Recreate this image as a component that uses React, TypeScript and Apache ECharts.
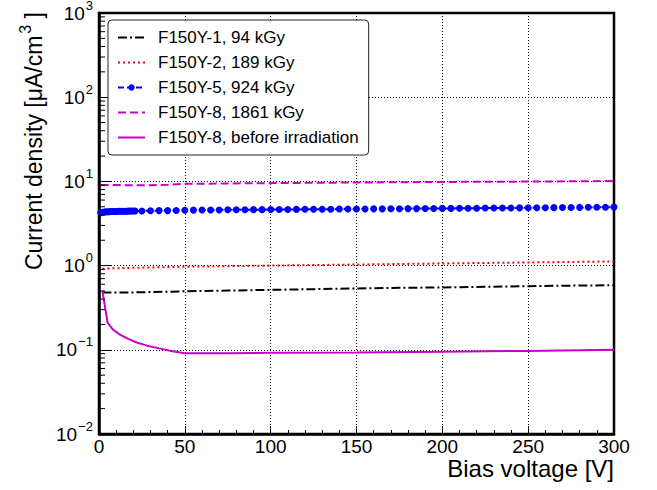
import { useEffect, useRef } from 'react';
import * as echarts from 'echarts';

const FONT = '"Liberation Sans", Arial, Helvetica, sans-serif';

// Bias voltage [V] and current density [uA/cm^3]
const voltsF1 = [2, 10, 20, 30, 40, 50, 75, 100, 125, 150, 175, 200, 225, 250, 275, 300];
const jF1 = [0.48, 0.48, 0.48, 0.485, 0.49, 0.495, 0.505, 0.515, 0.525, 0.535, 0.545, 0.55, 0.56, 0.57, 0.578, 0.585];

const voltsF2 = [2, 10, 20, 30, 50, 75, 100, 125, 150, 175, 200, 225, 250, 275, 300];
const jF2 = [0.92, 0.93, 0.94, 0.95, 0.97, 0.985, 1.0, 1.015, 1.03, 1.045, 1.06, 1.075, 1.09, 1.105, 1.12];

const voltsF5 = [
  1, 2, 3, 4, 5, 6, 7, 8, 9, 10, 11, 12, 13, 14, 15, 16, 17, 18, 19, 20, 21,
  25, 30, 35, 40, 45, 50, 55, 60, 65, 70, 75, 80, 85, 90, 95, 100,
  105, 110, 115, 120, 125, 130, 135, 140, 145, 150, 155, 160, 165, 170, 175, 180,
  185, 190, 195, 200, 205, 210, 215, 220, 225, 230, 235, 240, 245, 250, 255, 260,
  265, 270, 275, 280, 285, 290, 295, 300,
];
const jF5 = [
  4.25, 4.3, 4.33, 4.35, 4.36, 4.37, 4.38, 4.39, 4.4, 4.4, 4.41, 4.41, 4.42, 4.42, 4.43, 4.43, 4.44, 4.44, 4.45, 4.45, 4.45,
  4.46, 4.48, 4.5, 4.5, 4.52, 4.55, 4.56, 4.57, 4.58, 4.58, 4.6, 4.6, 4.61, 4.62, 4.62, 4.63,
  4.64, 4.64, 4.65, 4.66, 4.67, 4.67, 4.68, 4.69, 4.69, 4.7, 4.71, 4.72, 4.72, 4.73, 4.74, 4.75,
  4.75, 4.76, 4.77, 4.78, 4.78, 4.79, 4.8, 4.81, 4.82, 4.82, 4.83, 4.84, 4.85, 4.86, 4.86, 4.87,
  4.88, 4.89, 4.9, 4.91, 4.92, 4.93, 4.94, 4.95,
];

const voltsF8 = [1, 10, 20, 30, 40, 50, 75, 100, 150, 200, 250, 300];
const jF8 = [9.05, 9.05, 9.0, 9.0, 9.15, 9.35, 9.45, 9.55, 9.7, 9.85, 9.95, 10.1];

const voltsF8pre = [2, 5, 8, 12, 17, 22, 28, 35, 42, 50, 75, 100, 150, 200, 250, 300];
const jF8pre = [0.5, 0.21, 0.175, 0.152, 0.135, 0.122, 0.112, 0.104, 0.097, 0.091, 0.091, 0.092, 0.093, 0.095, 0.097, 0.1];

const seriesNames = [
  'F150Y-1, 94 kGy',
  'F150Y-2, 189 kGy',
  'F150Y-5, 924 kGy',
  'F150Y-8, 1861 kGy',
  'F150Y-8, before irradiation',
];

const decades = [0.01, 0.1, 1, 10, 100];
const minorMultipliers = [2, 3, 4, 5, 6, 7, 8, 9];

const zip = (xs: number[], ys: number[]) => xs.map((x, i) => [x, ys[i]]);

export default function App() {
  const ref = useRef<HTMLDivElement>(null);
  useEffect(() => {
    const chart = echarts.init(ref.current!, null, { renderer: 'svg' });
    const minorY: number[][] = [];
    decades.forEach((d) => minorMultipliers.forEach((m) => minorY.push([0, d * m])));

    const legendData = seriesNames.map((name) =>
      name === seriesNames[2] ? { name } : { name, itemStyle: { opacity: 0 } }
    );

    const option: any = {
      animation: false,
      backgroundColor: '#fff',
      textStyle: { fontFamily: FONT },
      grid: {
        left: 99, right: 43, top: 13, bottom: 56,
        show: true, borderColor: '#000', borderWidth: 2.5,
        containLabel: false, outerBoundsMode: 'none',
      },
      legend: {
        orient: 'vertical', left: 108, top: 20,
        itemWidth: 27, itemHeight: 8, itemGap: 8,
        padding: [9, 10, 9, 9],
        backgroundColor: '#fff', borderColor: '#222', borderWidth: 1, borderRadius: 4,
        textStyle: { fontSize: 17, color: '#000', fontFamily: FONT, padding: [0, 0, 0, 8] },
        data: legendData,
      },
      xAxis: {
        type: 'value', min: 0, max: 300, interval: 50,
        axisLine: { lineStyle: { color: '#000', width: 2.5 } },
        axisTick: { inside: true, length: 8, lineStyle: { color: '#000', width: 1 } },
        minorTick: { show: true, splitNumber: 5, length: 4, lineStyle: { color: '#000', width: 1 } },
        axisLabel: { color: '#000', fontSize: 19, margin: 3, fontFamily: FONT },
        splitLine: { show: true, lineStyle: { type: [1, 2], color: '#000', width: 1 } },
      },
      yAxis: {
        type: 'log', logBase: 10, min: 0.01, max: 1000, splitNumber: 5,
        axisLine: { lineStyle: { color: '#000', width: 2.5 } },
        axisTick: { inside: true, length: 12, lineStyle: { color: '#000', width: 1 } },
        axisLabel: {
          margin: 6,
          formatter: (v: number) => {
            const e = Math.round(Math.log10(v));
            const s = e < 0 ? '\u2212' + -e : String(e);
            return `{b|10}{s|${s}}`;
          },
          rich: {
            b: { fontSize: 19, fontFamily: FONT, color: '#000' },
            s: { fontSize: 13, fontFamily: FONT, color: '#000', padding: [0, 0, 16, 1] },
          },
        },
        splitLine: { show: true, lineStyle: { type: [1, 2], color: '#000', width: 1 } },
      },
      graphic: [
        {
          type: 'text', x: 614, y: 468,
          style: {
            text: 'Bias voltage [V]', fontSize: 24, lineHeight: 20, fontFamily: FONT, fill: '#000',
            align: 'right', verticalAlign: 'middle',
          },
        },
        {
          type: 'text', x: 34, y: 12, rotation: Math.PI / 2,
          style: {
            text: '{m|Current density [\u03bcA/cm}{s|3}{m| ]}',
            fontSize: 23, fontFamily: FONT, fill: '#000', align: 'right', verticalAlign: 'middle',
            rich: {
              m: { fontSize: 23, fontFamily: FONT, fill: '#000' },
              s: { fontSize: 16, fontFamily: FONT, fill: '#000', padding: [0, 0, 18, 2] },
            },
          },
        },
      ],
      series: [
        {
          name: seriesNames[0], type: 'line', data: zip(voltsF1, jF1), symbol: 'none',
          lineStyle: { color: '#000', width: 2, type: [9, 3, 2, 3] }, itemStyle: { color: '#000' },
        },
        {
          name: seriesNames[1], type: 'line', data: zip(voltsF2, jF2), symbol: 'none',
          lineStyle: { color: '#ff0000', width: 2, type: [2, 3] }, itemStyle: { color: '#ff0000' },
        },
        {
          name: seriesNames[2], type: 'line', data: zip(voltsF5, jF5), symbol: 'circle', symbolSize: 7,
          showSymbol: true, showAllSymbol: true,
          lineStyle: { color: '#0000ff', width: 2, type: [6, 3] }, itemStyle: { color: '#0000ff' },
        },
        {
          name: seriesNames[3], type: 'line', data: zip(voltsF8, jF8), symbol: 'none',
          lineStyle: { color: '#cc00cc', width: 2, type: [8, 4] }, itemStyle: { color: '#cc00cc' },
        },
        {
          name: seriesNames[4], type: 'line', data: zip(voltsF8pre, jF8pre), symbol: 'none',
          lineStyle: { color: '#cc00cc', width: 2, type: 'solid' }, itemStyle: { color: '#cc00cc' },
        },
        {
          name: 'minorYTicks', type: 'custom', silent: true, z: 5, clip: false,
          data: minorY,
          renderItem: (_p: any, api: any) => {
            const pt = api.coord([0, api.value(1)]);
            return {
              type: 'line',
              shape: { x1: pt[0], y1: pt[1], x2: pt[0] + 6, y2: pt[1] },
              style: { stroke: '#000', lineWidth: 1 },
            };
          },
        },
      ],
    };
    chart.setOption(option);
    return () => chart.dispose();
  }, []);
  return (
    <div
      ref={ref}
      style={{ position: 'fixed', left: 0, top: 0, width: 657, height: 490, background: '#fff' }}
    />
  );
}
